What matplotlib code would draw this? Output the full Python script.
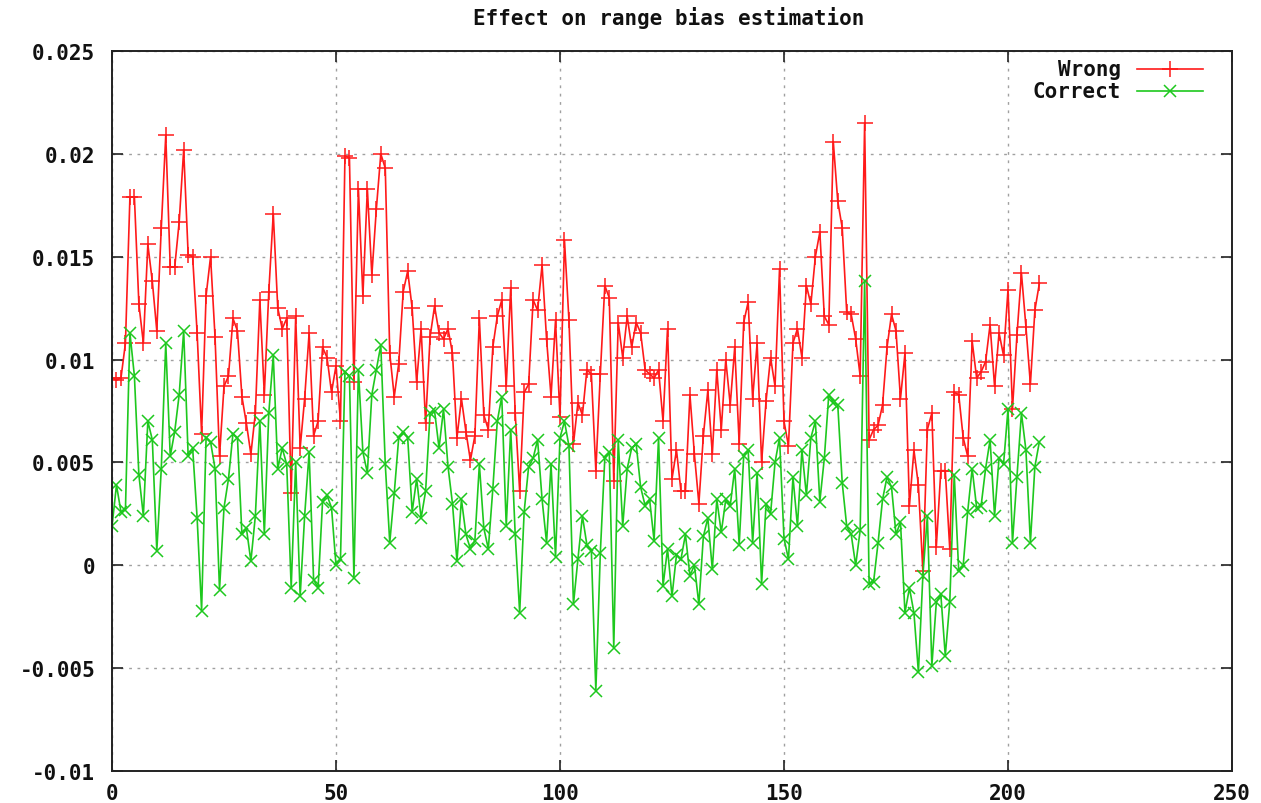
import matplotlib
matplotlib.use("Agg")
import matplotlib.pyplot as plt
from matplotlib.lines import Line2D
import numpy as np

title = "Effect on range bias estimation"
series_names = ["Wrong", "Correct"]

wrong = [
    0.0091, 0.0090, 0.0091, 0.0108, 0.0179, 0.0179, 0.0127, 0.0108, 0.0156, 0.0138,
    0.0114, 0.0164, 0.0209, 0.0145, 0.0145, 0.0167, 0.0202, 0.0151, 0.0150, 0.0113,
    0.0064, 0.0131, 0.0150, 0.0111, 0.0053, 0.0087, 0.0092, 0.0120, 0.0114, 0.0082,
    0.0069, 0.0054, 0.0074, 0.0129, 0.0083, 0.0133, 0.0171, 0.0125, 0.0115, 0.0120,
    0.0035, 0.0121, 0.0057, 0.0081, 0.0113, 0.0063, 0.0070, 0.0106, 0.0101, 0.0084,
    0.0097, 0.0070, 0.0199, 0.0198, 0.0089, 0.0183, 0.0131, 0.0183, 0.0141, 0.0173,
    0.0200, 0.0193, 0.0103, 0.0082, 0.0098, 0.0133, 0.0143, 0.0125, 0.0089, 0.0115,
    0.0069, 0.0111, 0.0126, 0.0113, 0.0110, 0.0115, 0.0103, 0.0062, 0.0081, 0.0065,
    0.0051, 0.0063, 0.0120, 0.0073, 0.0066, 0.0106, 0.0121, 0.0129, 0.0087, 0.0135,
    0.0074, 0.0036, 0.0084, 0.0088, 0.0129, 0.0124, 0.0146, 0.0110, 0.0082, 0.0119,
    0.0072, 0.0158, 0.0119, 0.0059, 0.0079, 0.0073, 0.0095, 0.0093, 0.0046, 0.0093,
    0.0136, 0.0130, 0.0041, 0.0118, 0.0101, 0.0121, 0.0106, 0.0118, 0.0113, 0.0095,
    0.0093, 0.0091, 0.0095, 0.0070, 0.0115, 0.0042, 0.0056, 0.0036, 0.0036, 0.0083,
    0.0054, 0.0030, 0.0063, 0.0085, 0.0054, 0.0095, 0.0066, 0.0100, 0.0078, 0.0106,
    0.0059, 0.0118, 0.0128, 0.0081, 0.0108, 0.0050, 0.0080, 0.0101, 0.0087, 0.0144,
    0.0070, 0.0058, 0.0108, 0.0115, 0.0101, 0.0136, 0.0127, 0.0150, 0.0162, 0.0121,
    0.0117, 0.0206, 0.0177, 0.0164, 0.0123, 0.0122, 0.0110, 0.0092, 0.0215, 0.0061,
    0.0066, 0.0068, 0.0078, 0.0106, 0.0122, 0.0114, 0.0081, 0.0103, 0.0029, 0.0056,
    0.0039, -0.0003, 0.0066, 0.0074, 0.0009, 0.0046, 0.0046, 0.0008, 0.0084, 0.0083,
    0.0062, 0.0053, 0.0109, 0.0091, 0.0094, 0.0099, 0.0117, 0.0087, 0.0113, 0.0102,
    0.0134, 0.0076, 0.0112, 0.0142, 0.0116, 0.0088, 0.0124, 0.0137,
]

correct = [
    0.0019, 0.0039, 0.0026, 0.0027, 0.0113, 0.0092, 0.0044, 0.0024, 0.0070, 0.0061,
    0.0007, 0.0047, 0.0108, 0.0053, 0.0065, 0.0083, 0.0114, 0.0053, 0.0057, 0.0023,
    -0.0022, 0.0062, 0.0060, 0.0047, -0.0012, 0.0028, 0.0042, 0.0064, 0.0062, 0.0015,
    0.0018, 0.0002, 0.0024, 0.0070, 0.0015, 0.0074, 0.0102, 0.0047, 0.0057, 0.0049,
    -0.0011, 0.0050, -0.0015, 0.0024, 0.0055, -0.0007, -0.0011, 0.0031, 0.0034, 0.0028,
    0.0000, 0.0003, 0.0094, 0.0092, -0.0006, 0.0095, 0.0055, 0.0045, 0.0083, 0.0095,
    0.0107, 0.0049, 0.0011, 0.0035, 0.0062, 0.0065, 0.0062, 0.0026, 0.0042, 0.0023,
    0.0036, 0.0074, 0.0075, 0.0057, 0.0076, 0.0048, 0.0030, 0.0002, 0.0032, 0.0015,
    0.0008, 0.0012, 0.0049, 0.0018, 0.0008, 0.0037, 0.0070, 0.0082, 0.0019, 0.0066,
    0.0015, -0.0023, 0.0026, 0.0048, 0.0052, 0.0061, 0.0032, 0.0011, 0.0049, 0.0004,
    0.0062, 0.0070, 0.0058, -0.0019, 0.0003, 0.0024, 0.0010, 0.0007, -0.0061, 0.0006,
    0.0052, 0.0055, -0.0040, 0.0061, 0.0019, 0.0047, 0.0057, 0.0059, 0.0038, 0.0029,
    0.0032, 0.0012, 0.0062, -0.0010, 0.0008, -0.0015, 0.0005, 0.0003, 0.0015, -0.0005,
    0.0000, -0.0019, 0.0014, 0.0023, -0.0002, 0.0032, 0.0016, 0.0032, 0.0029, 0.0047,
    0.0010, 0.0053, 0.0056, 0.0011, 0.0045, -0.0009, 0.0030, 0.0025, 0.0050, 0.0062,
    0.0013, 0.0003, 0.0043, 0.0019, 0.0056, 0.0034, 0.0062, 0.0070, 0.0031, 0.0052,
    0.0083, 0.0079, 0.0078, 0.0040, 0.0019, 0.0015, 0.0000, 0.0017, 0.0138, -0.0009,
    -0.0008, 0.0011, 0.0032, 0.0043, 0.0038, 0.0015, 0.0021, -0.0023, -0.0011, -0.0023,
    -0.0052, -0.0005, 0.0024, -0.0049, -0.0018, -0.0014, -0.0044, -0.0018, 0.0044, -0.0003,
    0.0000, 0.0026, 0.0047, 0.0028, 0.0029, 0.0047, 0.0061, 0.0024, 0.0052, 0.0049,
    0.0076, 0.0011, 0.0043, 0.0074, 0.0056, 0.0011, 0.0048, 0.0060,
]

x_ticks = [0, 50, 100, 150, 200, 250]
x_labels = ["0", "50", "100", "150", "200", "250"]
y_ticks = [-0.01, -0.005, 0, 0.005, 0.01, 0.015, 0.02, 0.025]
y_labels = ["-0.01", "-0.005", "0", "0.005", "0.01", "0.015", "0.02", "0.025"]

FONT = "DejaVu Sans Mono"
FS = 15
RED = "#ff1a1a"
GREEN = "#1ec81e"

W, H = 1261, 804
fig = plt.figure(figsize=(W / 100, H / 100), dpi=100)
ax = fig.add_axes([112 / W, 1 - 772 / H, (1232 - 112) / W, (772 - 52) / H])

x = np.arange(len(wrong))
ax.plot(x, wrong, color=RED, lw=1.2, marker="+", markersize=11, markeredgewidth=1.1)
ax.plot(np.arange(len(correct)), correct, color=GREEN, lw=1.2, marker="x",
        markersize=8, markeredgewidth=1.1)

ax.set_xlim(0, 250)
ax.set_ylim(-0.01, 0.025)
ax.set_xticks(x_ticks)
ax.set_xticklabels(x_labels)
ax.set_yticks(y_ticks)
ax.set_yticklabels(y_labels)

ax.grid(True, color="#a0a0a0", linestyle=(0, (2, 4)), lw=1.0)
ax.set_axisbelow(True)
for s in ax.spines.values():
    s.set_linewidth(1.4)
    s.set_color("#222222")

ax.tick_params(direction="in", length=8, width=1.2, top=True, right=True,
               colors="#222222")
ax.tick_params(axis="y", pad=12)
ax.tick_params(axis="x", pad=9)
for lab in ax.get_xticklabels() + ax.get_yticklabels():
    lab.set_fontfamily(FONT)
    lab.set_fontweight("bold")
    lab.set_fontsize(FS)
    lab.set_color("#111111")

fig.text(0.5 * (452 + 886) / W, 1 - 18 / H, title, ha="center", va="center",
         fontfamily=FONT, fontweight="bold", fontsize=FS, color="#111111")

# legend (gnuplot style: right-aligned text, sample line to the right)
leg_items = [(series_names[0], RED, "+", 11, 70), (series_names[1], GREEN, "x", 8, 92)]
for name, col, mk, ms, ypx in leg_items:
    yf = 1 - ypx / H
    fig.text(1121 / W, yf, name, ha="right", va="center", fontfamily=FONT,
             fontweight="bold", fontsize=FS, color="#111111")
    fig.add_artist(Line2D([1137 / W, 1203 / W], [yf, yf], color=col, lw=1.2,
                          transform=fig.transFigure))
    fig.add_artist(Line2D([1170 / W], [yf], color=col, marker=mk, markersize=ms,
                          markeredgewidth=1.1, transform=fig.transFigure))

fig.savefig("out.png", dpi=100)
